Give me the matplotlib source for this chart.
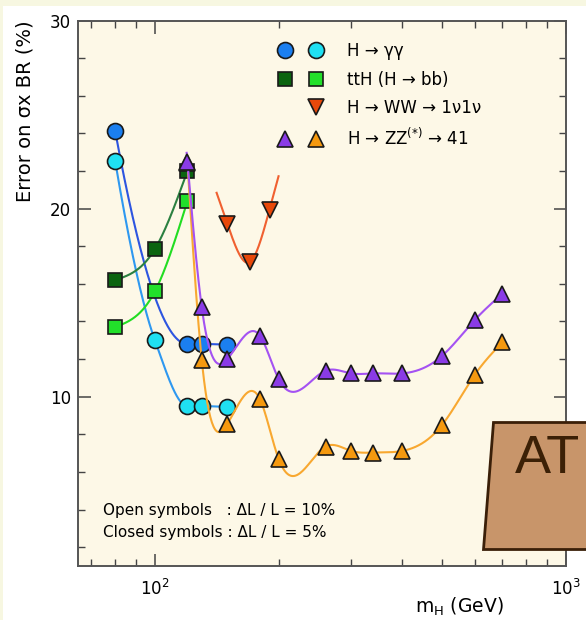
import numpy as np
import matplotlib.pyplot as plt
from matplotlib.lines import Line2D
from matplotlib.legend_handler import HandlerTuple
from matplotlib.patches import Polygon, Rectangle
from matplotlib.ticker import MultipleLocator

plt.rcParams['font.family'] = ['DejaVu Sans']

# Higgs mass points (GeV) and relative error on sigma x BR (%)
gg_mass_closed = [80, 120, 130, 150]
gg_closed = [24.15, 12.8, 12.8, 12.77]
gg_mass_open = [80, 100, 120, 130, 150]
gg_open = [22.55, 13.0, 9.5, 9.5, 9.45]

tth_mass = [80, 100, 120]
tth_closed = [16.2, 17.85, 22.0]
tth_open = [13.7, 15.6, 20.4]

ww_mass = [150, 170, 190]
ww_open = [19.2, 17.15, 19.95]

zz_mass = [120, 130, 150, 180, 200, 260, 300, 340, 400, 500, 600, 700]
zz_closed = [22.46, 14.75, 12.0, 13.25, 10.94, 11.38, 11.24, 11.24, 11.24, 12.18, 14.08, 15.47]
zz_open = [22.4, 11.95, 8.55, 9.88, 6.69, 7.35, 7.12, 7.03, 7.12, 8.51, 11.17, 12.89]

labels = ['H → γγ', 'ttH (H → bb)', 'H → WW → 1ν1ν', r'H → ZZ$^{(*)}$ → 41']


def natural_spline(xk, yk, xs):
    xk = np.asarray(xk, float)
    yk = np.asarray(yk, float)
    n = len(xk)
    h = np.diff(xk)
    A = np.zeros((n, n))
    r = np.zeros(n)
    A[0, 0] = A[-1, -1] = 1.0
    for i in range(1, n - 1):
        A[i, i - 1] = h[i - 1]
        A[i, i] = 2 * (h[i - 1] + h[i])
        A[i, i + 1] = h[i]
        r[i] = 3 * ((yk[i + 1] - yk[i]) / h[i] - (yk[i] - yk[i - 1]) / h[i - 1])
    c = np.linalg.solve(A, r)
    b = (yk[1:] - yk[:-1]) / h - h * (2 * c[:-1] + c[1:]) / 3
    d = (c[1:] - c[:-1]) / (3 * h)
    idx = np.clip(np.searchsorted(xk, xs) - 1, 0, n - 2)
    t = xs - xk[idx]
    ys = yk[idx] + b[idx] * t + c[idx] * t ** 2 + d[idx] * t ** 3
    # straight continuation outside the knots
    lo = xs < xk[0]
    ys[lo] = yk[0] + b[0] * (xs[lo] - xk[0])
    slope_end = b[-1] + 2 * c[-2] * h[-1] + 3 * d[-1] * h[-1] ** 2
    hi = xs > xk[-1]
    ys[hi] = yk[-1] + slope_end * (xs[hi] - xk[-1])
    return ys


def pchip(xk, yk, xs):
    xk = np.asarray(xk, float)
    yk = np.asarray(yk, float)
    n = len(xk)
    h = np.diff(xk)
    delta = np.diff(yk) / h
    m = np.zeros(n)
    for i in range(1, n - 1):
        if delta[i - 1] * delta[i] > 0:
            w1 = 2 * h[i] + h[i - 1]
            w2 = h[i] + 2 * h[i - 1]
            m[i] = (w1 + w2) / (w1 / delta[i - 1] + w2 / delta[i])

    def end_slope(h0, h1, d0, d1):
        s = ((2 * h0 + h1) * d0 - h0 * d1) / (h0 + h1)
        if np.sign(s) != np.sign(d0):
            return 0.0
        if np.sign(d0) != np.sign(d1) and abs(s) > abs(3 * d0):
            return 3 * d0
        return s

    m[0] = end_slope(h[0], h[1], delta[0], delta[1])
    m[-1] = end_slope(h[-1], h[-2], delta[-1], delta[-2])
    idx = np.clip(np.searchsorted(xk, xs) - 1, 0, n - 2)
    hh = h[idx]
    t = np.clip((xs - xk[idx]) / hh, 0, 1)
    h00 = 2 * t ** 3 - 3 * t ** 2 + 1
    h10 = t ** 3 - 2 * t ** 2 + t
    h01 = -2 * t ** 3 + 3 * t ** 2
    h11 = t ** 3 - t ** 2
    return h00 * yk[idx] + h10 * hh * m[idx] + h01 * yk[idx + 1] + h11 * hh * m[idx + 1]


def draw_series(ax, mass, vals, interp, line_col, face, marker, ms, z, ext=(0.0, 0.0)):
    lx = np.log10(mass)
    xs = np.linspace(lx[0] - ext[0], lx[-1] + ext[1], 400)
    ax.plot(10 ** xs, interp(lx, vals, xs), color=line_col, lw=1.5, zorder=z)
    ax.plot(mass, vals, ls='none', marker=marker, ms=ms, mfc=face,
            mec='#1a1a1a', mew=1.2, zorder=z + 0.5)


fig = plt.figure(figsize=(5.86, 6.2), dpi=100, facecolor='white')
ax = fig.add_axes([78 / 586, 1 - 566 / 620, 488 / 586, 545.5 / 620])
ax.set_facecolor('#fdf8e7')

edge = '#1a1a1a'
c_blue, c_cyan = '#1b7ff0', '#1fe0f2'
c_dgreen, c_lgreen = '#0b6410', '#22e02a'
c_ww = '#e8480a'
c_purple, c_orange = '#8a3be6', '#f5990f'

draw_series(ax, gg_mass_closed, gg_closed, pchip, '#2d55e0', c_blue, 'o', 11.5, 3)
draw_series(ax, gg_mass_open, gg_open, pchip, '#2e98f0', c_cyan, 'o', 11.5, 4)
draw_series(ax, tth_mass, tth_closed, natural_spline, '#2b8040', c_dgreen, 's', 10.5, 5)
draw_series(ax, tth_mass, tth_open, natural_spline, '#22dd22', c_lgreen, 's', 10.5, 6,
            ext=(0.0, 0.003))
draw_series(ax, ww_mass, ww_open, natural_spline, '#f06030', c_ww, 'v', 12, 7,
            ext=(0.026, 0.022))
draw_series(ax, zz_mass, zz_open, natural_spline, '#f8a830', c_orange, '^', 12, 8)
draw_series(ax, zz_mass, zz_closed, natural_spline, '#a452f2', c_purple, '^', 12, 9,
            ext=(0.002, 0.0))

ax.set_xscale('log')
ax.set_xlim(65, 1000)
ax.set_ylim(1, 30)
ax.yaxis.set_major_locator(MultipleLocator(10))
ax.yaxis.set_minor_locator(MultipleLocator(2))

for s in ax.spines.values():
    s.set_color('#555555')
    s.set_linewidth(1.4)
ax.tick_params(which='both', direction='in', top=True, right=True, colors='#444444',
               labelcolor='black', labelsize=12)
ax.tick_params(which='major', length=9, width=1.1)
ax.tick_params(which='minor', length=5, width=1.0)
ax.tick_params(axis='x', pad=9)
ax.tick_params(axis='y', pad=5)

ax.set_ylabel('Error on σx BR (%)', fontsize=14, loc='top', labelpad=11)
ax.set_xlabel(r'm$_{\rm H}$ (GeV)', fontsize=13.5, ha='right', va='center')
ax.xaxis.set_label_coords(426 / 488, -41 / 545.5)

# legend: closed / open symbol pairs
def mk(marker, face, ms):
    return Line2D([], [], ls='none', marker=marker, ms=ms, mfc=face, mec=edge, mew=1.2)

blank = Line2D([], [], ls='none', marker='None')
handles = [
    (mk('o', c_blue, 11.5), mk('o', c_cyan, 11.5)),
    (mk('s', c_dgreen, 10.5), mk('s', c_lgreen, 10.5)),
    (blank, mk('v', c_ww, 12)),
    (mk('^', c_purple, 12), mk('^', c_orange, 12)),
]
ax.legend(handles, labels, handler_map={tuple: HandlerTuple(ndivide=None, pad=0)},
          numpoints=1, frameon=False, loc='upper left', bbox_to_anchor=(0.391, 0.96),
          fontsize=12, handlelength=3.8, handletextpad=0.9, labelspacing=0.62,
          borderaxespad=0, borderpad=0)

ax.text(0.051, 0.101, 'Open symbols   : ΔL / L = 10%', transform=ax.transAxes,
        fontsize=11, va='center')
ax.text(0.051, 0.061, 'Closed symbols : ΔL / L = 5%', transform=ax.transAxes,
        fontsize=11, va='center')

# page trim and logo tab
fig.add_artist(Rectangle((0, 1 - 6 / 620), 1, 6 / 620, transform=fig.transFigure,
                         facecolor='#f7f7e1', edgecolor='none', zorder=0))
fig.add_artist(Rectangle((0, 0), 3 / 586, 1, transform=fig.transFigure,
                         facecolor='#f7f7e1', edgecolor='none', zorder=0))
logo = Polygon([(493 / 586, 1 - 421.7 / 620), (1.05, 1 - 421.7 / 620),
                (1.05, 1 - 549.3 / 620), (483.3 / 586, 1 - 549.3 / 620)],
               closed=True, transform=fig.transFigure, facecolor='#c8956a',
               edgecolor='#3a1f08', lw=2, zorder=10)
fig.add_artist(logo)
fig.text(515 / 586, 1 - 473 / 620, 'AT', fontsize=39, color='#3b2006',
         family='Liberation Sans', va='baseline', zorder=11)

plt.savefig('out.png', dpi=100)
